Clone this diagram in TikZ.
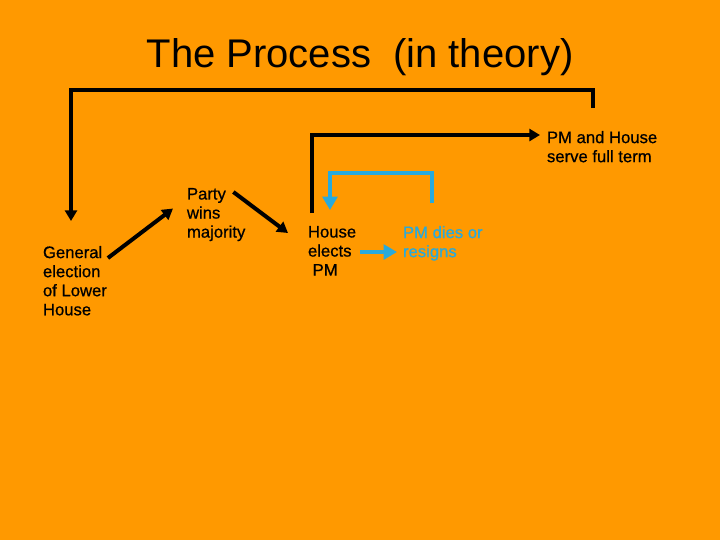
\documentclass[tikz,border=0pt]{standalone}
\usepackage{fontspec}
\setmainfont{Liberation Sans}
\newfontfamily\stepfont[FakeBold=0.7]{Liberation Sans}
\usetikzlibrary{arrows.meta}

\definecolor{slideorange}{RGB}{255,153,0}
\definecolor{loopcyan}{RGB}{40,170,220}

\tikzset{every picture/.style={line width=3pt}}
\tikzset{
	step text/.style={anchor=north west, inner sep=0pt, align=left, font=\stepfont\fontsize{12.5}{14.3}\selectfont},
	flow/.style={-{Triangle[length=8pt,width=9pt]}},
	cyan flow/.style={draw=loopcyan, -{Triangle[length=10pt,width=11pt]}}
}

\begin{document}
\begin{tikzpicture}[x=0.75pt,y=0.75pt,yscale=-1,xscale=1]
	% background, sets the picture size
	\fill[slideorange] (0,0) rectangle (720,540);

	% Title
	\node[anchor=base, inner sep=0pt, font=\fontsize{30}{36}\selectfont] (title) at (360,67) {The Process\ \ (in theory)};

	% Text Nodes
	\node[step text] (gen) at (41,244) {General\\election\\of Lower\\House};
	\node[step text] (party) at (185,186) {Party\\wins\\majority};
	\node[step text] (elects) at (306,224) {House\\elects\\\ PM};
	\node[step text, text=loopcyan] (dies) at (401,224) {PM dies or\\resigns};
	\node[step text] (term) at (545,129) {PM and House\\serve full term};

	% forward steps
	\draw[flow] ([shift={(-1,14)}]gen.north east) -- ([shift={(-12,-6)}]party.west);
	\draw[flow] ([shift={(-14,6)}]party.north east) -- ([shift={(-18,9)}]elects.north west);
	\draw[cyan flow] ([shift={(54,28)}]elects.north west) -- ([shift={(-4,28)}]dies.north west);

	% full term branch
	\draw[flow] ([shift={(6,-11)}]elects.north west) |- ([shift={(-5,6)}]term.north west);
	% vacancy loop
	\draw[cyan flow] ([shift={(31,-21)}]dies.north west) -- ++(0,-30) -| ([shift={(24,-14)}]elects.north west);
	% back to election
	\draw[flow] ([shift={(48,-21)}]term.north west) -- ++(0,-18) -| ([shift={(30,-23)}]gen.north west);
\end{tikzpicture}
\end{document}
